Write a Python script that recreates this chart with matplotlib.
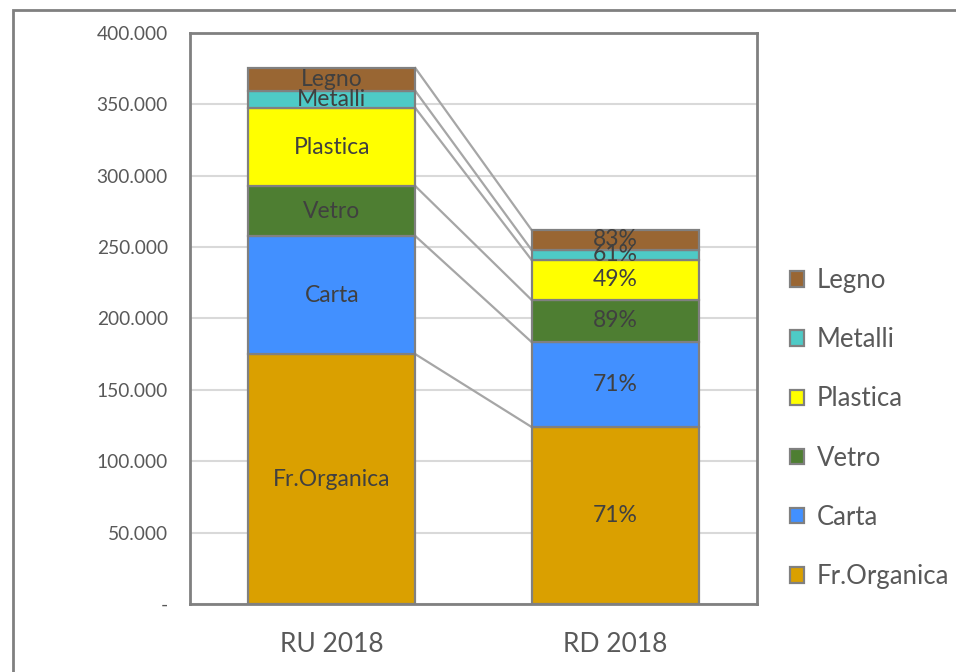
import matplotlib
matplotlib.use("Agg")
import matplotlib.pyplot as plt
from matplotlib.patches import Rectangle, Patch
import numpy as np

plt.rcParams['font.family'] = ['Lato', 'DejaVu Sans']

categories = ["RU 2018", "RD 2018"]
series = ["Fr.Organica", "Carta", "Vetro", "Plastica", "Metalli", "Legno"]
ru_values = [175000, 82700, 35000, 54700, 11900, 16100]
rd_values = [124000, 59500, 29500, 28000, 7000, 14000]
rd_labels = ["71%", "71%", "89%", "49%", "61%", "83%"]
colors = ["#DAA000", "#4290FF", "#4E7E32", "#FFFF00", "#4ECAC6", "#996633"]
yticks = [0, 50000, 100000, 150000, 200000, 250000, 300000, 350000, 400000]
ytick_labels = ["-", "50.000", "100.000", "150.000", "200.000", "250.000", "300.000", "350.000", "400.000"]

fig = plt.figure(figsize=(9.56, 6.72), dpi=100)
# outer chart border
fig.add_artist(Rectangle((13/956, -0.1), 2.0, (672-10)/672 + 0.1, transform=fig.transFigure,
                         fill=False, edgecolor="#808080", linewidth=2.0))

ax = fig.add_axes([190/956, 1-604/672, (757-190)/956, (604-33)/672])
width = 0.59
x = np.arange(len(categories))
data = [ru_values, rd_values]
bottoms = [0.0, 0.0]
tops = [[], []]
for si, name in enumerate(series):
    for ci in range(2):
        v = data[ci][si]
        ax.bar(x[ci], v, width, bottom=bottoms[ci], color=colors[si], edgecolor="#808080",
               linewidth=1.6, zorder=3)
        mid = bottoms[ci] + v / 2
        lab = name if ci == 0 else rd_labels[si]
        ax.text(x[ci], mid, lab, ha="center", va="center", fontsize=16.5, color="#404040", zorder=4)
        bottoms[ci] += v
        tops[ci].append(bottoms[ci])

# series lines
for si in range(len(series)):
    ax.plot([x[0] + width/2, x[1] - width/2], [tops[0][si], tops[1][si]],
            color="#A6A6A6", linewidth=1.6, zorder=2)

ax.set_xlim(-0.5, 1.5)
ax.set_ylim(0, 400000)
ax.set_yticks(yticks)
ax.set_yticklabels(ytick_labels)
ax.set_xticks(x)
ax.set_xticklabels(categories)
ax.tick_params(axis="y", length=0, pad=16, labelsize=13.8, labelcolor="#595959")
ax.tick_params(axis="x", length=0, pad=20, labelsize=19, labelcolor="#595959")
ax.yaxis.grid(True, color="#D9D9D9", linewidth=1.5, zorder=0)
ax.set_axisbelow(True)
for s in ax.spines.values():
    s.set_color("#808080")
    s.set_linewidth(2.0)

handles = [Patch(facecolor=colors[i], edgecolor="#808080", linewidth=1.6, label=series[i])
           for i in range(len(series))][::-1]
fig.legend(handles=handles, loc="upper left", bbox_to_anchor=(790/956, 1-268/672),
           frameon=False, fontsize=18.5, labelcolor="#595959", handlelength=0.55,
           handleheight=0.55, handletextpad=0.5, labelspacing=1.33, borderaxespad=0,
           borderpad=0)

fig.savefig("out.png", dpi=100)
